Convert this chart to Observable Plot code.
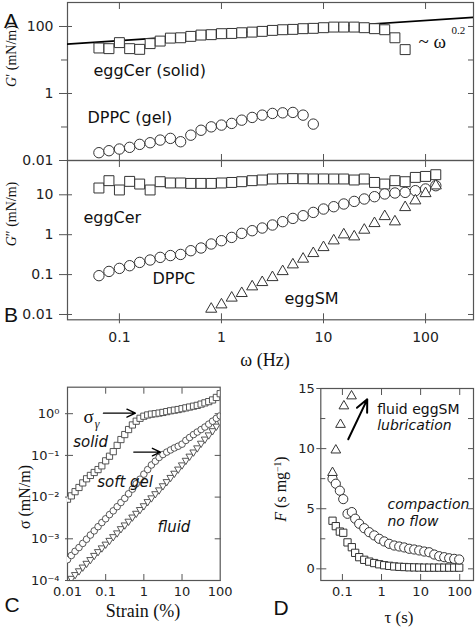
<!DOCTYPE html>
<html><head><meta charset="utf-8">
<script src="https://cdn.jsdelivr.net/npm/d3@7"></script>
<script src="https://cdn.jsdelivr.net/npm/@observablehq/plot@0.6"></script>
<style>
html,body{margin:0;padding:0;background:#fff;}
#fig{position:relative;width:476px;height:630px;overflow:hidden;background:#fff;}
#fig svg{position:absolute;left:0;top:0;}
.lbl{position:absolute;white-space:nowrap;transform:translate(-50%,-50%);color:#111;line-height:1;}
.rot{transform:translate(-50%,-50%) rotate(-90deg);}
.serif{font-family:"Liberation Serif","DejaVu Serif",serif;}
.panel{font-family:"Liberation Sans",Arial,sans-serif;font-size:21px;}
sup{font-size:0.6em;vertical-align:0.6em;}
</style></head><body><div id="fig"></div>
<script>
// ---------- Panels A/B : frequency sweep ----------
const omega = [0.063, 0.079, 0.1, 0.126, 0.158, 0.2, 0.251, 0.316, 0.398, 0.501, 0.631, 0.794,
  1, 1.26, 1.58, 2.0, 2.51, 3.16, 3.98, 5.01, 6.31, 7.94, 10, 12.6, 15.8, 20, 25.1, 31.6,
  39.8, 50.1, 63.1, 79.4, 100, 126];
const gpCer = [22.8, 21.8, 33, 21.8, 20.8, 30.8, 36.7, 45, 46, 50.7, 55.5, 57, 61, 62, 65, 68,
  71.5, 76.5, 80, 82, 86, 88, 92, 96, 96, 96, 92, 86, 80, 46, 20.4];
const gpDppc = [0.0171, 0.0196, 0.022, 0.0247, 0.0303, 0.0339, 0.0407, 0.0457, 0.0363, 0.057,
  0.080, 0.101, 0.114, 0.128, 0.16, 0.193, 0.226, 0.254, 0.265, 0.272, 0.226, 0.122];
const gppCer = [14.8, 22.6, 13.2, 21.7, 18.6, 13.2, 21.3, 19.8, 19.8, 19.3, 19.3, 19.3, 19.8, 20.4,
  21.3, 22.6, 23.5, 24.9, 25.2, 25.4, 25.2, 25, 25, 24.9, 24.9, 23.5, 24.9, 20.4, 18.6, 22.6,
  21.3, 27.3, 28.9, 31.9];
const gppDppc = [0.094, 0.12, 0.143, 0.167, 0.202, 0.232, 0.27, 0.30, 0.32, 0.397, 0.464, 0.585,
  0.707, 0.855, 1.08, 1.26, 1.47, 1.75, 2.12, 2.56, 2.99, 3.62, 4.4, 5.03, 5.88, 6.83, 7.85,
  8.96, 10.5, 11.1, 11.5, 12.7, 14, 16.9];
const gppSM = [0.0137, 0.0176, 0.026, 0.0339, 0.0498, 0.0638, 0.085, 0.12, 0.177, 0.246, 0.34,
  0.48, 0.707, 1.0, 0.89, 1.31, 1.92, 2.87, 2.12, 4.83, 7.11, 10.8, 16.9];
const omegaGpCer = omega.slice(0, 31);
const omegaGpDppc = omega.slice(0, 22);
const omegaSM = omega.slice(11, 34);
const fitOmega = [0.03, 300];
const fitG = [29.8, 188];
const omegaTicks = [0.1, 1, 10, 100];
const gpTicks = [0.01, 1, 100];
const gppTicks = [0.01, 0.1, 1, 10];

// ---------- Panel C : strain sweep ----------
const strain = [0.01, 0.0126, 0.0158, 0.02, 0.0251, 0.0316, 0.0398, 0.0501, 0.0631, 0.0794,
  0.1, 0.126, 0.158, 0.2, 0.251, 0.316, 0.398, 0.501, 0.631, 0.794,
  1, 1.26, 1.58, 2, 2.51, 3.16, 3.98, 5.01, 6.31, 7.94,
  10, 12.6, 15.8, 20, 25.1, 31.6, 39.8, 50.1, 63.1, 79.4, 100];
const sigmaSolid = [0.0089, 0.0107, 0.0135, 0.017, 0.0219, 0.0275, 0.0331, 0.0389, 0.0457, 0.0562,
  0.0741, 0.0955, 0.123, 0.174, 0.24, 0.316, 0.417, 0.537, 0.661, 0.776,
  0.871, 0.933, 0.977, 1.0, 1.035, 1.072, 1.122, 1.175, 1.216, 1.259,
  1.318, 1.38, 1.445, 1.514, 1.585, 1.698, 1.82, 1.95, 2.138, 2.455, 3.02];
const sigmaGel = [0.000316, 0.000398, 0.000501, 0.000617, 0.000776, 0.000977, 0.00123, 0.00155, 0.00195, 0.00245,
  0.00302, 0.0038, 0.00468, 0.00589, 0.00741, 0.00933, 0.012, 0.0155, 0.0209, 0.0269,
  0.0355, 0.0457, 0.0589, 0.0724, 0.0891, 0.105, 0.12, 0.135, 0.151, 0.166,
  0.186, 0.229, 0.269, 0.316, 0.363, 0.417, 0.479, 0.562, 0.661, 0.776, 0.891];
const sigmaFluid = [0.0000891, 0.000112, 0.000138, 0.00017, 0.000209, 0.000257, 0.000316, 0.000398, 0.00049, 0.000603,
  0.000741, 0.000912, 0.00112, 0.00138, 0.00174, 0.00214, 0.00263, 0.00331, 0.00407, 0.00501,
  0.00617, 0.00776, 0.00955, 0.012, 0.0148, 0.0186, 0.0234, 0.0295, 0.0372, 0.0468,
  0.0589, 0.0759, 0.0955, 0.12, 0.151, 0.195, 0.245, 0.309, 0.389, 0.501, 0.631];
const strainTicks = [0.01, 0.1, 1, 10, 100];
const sigmaTicks = [0.0001, 0.001, 0.01, 0.1, 1];

// ---------- Panel D : creep / flow ----------
const tau = [0.0558, 0.0678, 0.0859, 0.105, 0.135, 0.174, 0.212, 0.269, 0.361, 0.484, 0.65, 0.873,
  1.17, 1.57, 2.11, 2.84, 3.81, 5.1, 6.86, 9.2, 12.4, 16.6, 22.3, 29.9, 40.2, 53.8, 72.3, 97];
const fDppc = [7.5, 7.08, 6.5, 5.8, 4.58, 4.72, 4.17, 3.75, 3.38, 3.05, 2.78, 2.5, 2.28, 2.08, 1.94,
  1.86, 1.78, 1.67, 1.61, 1.53, 1.44, 1.38, 1.19, 1.05, 0.97, 0.88, 0.83, 0.78];
const fCer = [4.0, 3.55, 3.1, 3.0, 2.2, 1.8, 1.33, 0.97, 0.75, 0.6, 0.48, 0.38, 0.3, 0.25, 0.2, 0.17,
  0.15, 0.13, 0.12, 0.11, 0.1, 0.1, 0.1, 0.1, 0.1, 0.1, 0.1, 0.1];
const tauSM = [0.0558, 0.0678, 0.0894, 0.109, 0.171];
const fSM = [8.0, 9.87, 12.0, 13.54, 14.37];
const tauTicks = [0.1, 1, 10, 100];
const fTicks = [0, 5, 10, 15];
const fMinor = [2.5, 7.5, 12.5];

// ---------- annotations (data coordinates) ----------
const notesA = [{t: "eggCer (solid)", x: 0.0556, y: 4.6}, {t: "DPPC (gel)", x: 0.0486, y: 0.184}];
const notesB = [{t: "eggCer", x: 0.0444, y: 2.71}, {t: "DPPC", x: 0.211, y: 0.0789}, {t: "eggSM", x: 4.15, y: 0.0249}];
const notesC = [{t: "solid", x: 0.0141, y: 0.208}, {t: "soft gel", x: 0.0598, y: 0.0229}, {t: "fluid", x: 2.27, y: 0.0019}];
const arrowsC = [{x1: 0.0875, x2: 0.6, y: 1.03}, {x1: 0.545, x2: 2.72, y: 0.12}];
const notesDPlain = [{t: "fluid eggSM", x: 0.776, y: 13.27}];
const notesDItalic = [{t: "lubrication", x: 0.776, y: 11.88}, {t: "compaction", x: 1.42, y: 5.33}, {t: "no flow", x: 1.42, y: 3.95}];
const arrowD = [{x1: 0.141, y1: 10.78, x2: 0.431, y2: 14.1}];

// ---------- helpers ----------
const W = 476, H = 630;
const frameInk = "#555", ink = "#222";
const sans = "DejaVu Sans";
function tk(axis, anchor, values, size, shift) {
  const o = {anchor, ticks: values, tickSize: size, tickFormat: () => "", label: null, stroke: frameInk, strokeWidth: 1};
  if (axis === Plot.axisX) o.dy = shift; else o.dx = shift;
  return axis(o);
}
function lb(axis, anchor, values, pad, fmt) {
  return axis({anchor, ticks: values, tickSize: 0, tickPadding: pad, tickFormat: fmt, label: null});
}
const fmtNum = d => d3.format("~g")(d);
const supMap = {"0": "⁰", "1": "¹", "2": "²", "3": "³", "4": "⁴", "-": "⁻"};
const fmtPow = d => "10" + String(Math.round(Math.log10(d))).split("").map(c => supMap[c]).join("");
const downTri = {draw(ctx, size) {
  const y = -Math.sqrt(size / (Math.sqrt(3) * 3));
  ctx.moveTo(0, -y * 2); ctx.lineTo(-Math.sqrt(3) * y, y); ctx.lineTo(Math.sqrt(3) * y, y); ctx.closePath();
}};
const baseStyle = fs => ({fontFamily: sans, fontSize: fs + "px", color: ink, background: "none", overflow: "visible"});

const fig = document.getElementById("fig");

// ---- Panel A ----
const plotA = Plot.plot({
  width: W, height: H, marginLeft: 67, marginRight: 3, marginTop: 2, marginBottom: H - 160,
  x: {type: "log", domain: [0.031, 295], axis: null},
  y: {type: "log", domain: [0.01, 520], axis: null},
  style: baseStyle(14),
  marks: [
    Plot.frame({stroke: frameInk, strokeWidth: 1.2}),
    tk(Plot.axisY, "left", gpTicks, 13, 5),
    tk(Plot.axisY, "left", [0.1, 10], 6, 0),
    tk(Plot.axisY, "right", [0.1, 1, 10, 100], 6, -6),
    tk(Plot.axisX, "top", omegaTicks, 6, 6),
    tk(Plot.axisX, "bottom", omegaTicks, 6, -6),
    lb(Plot.axisY, "left", gpTicks, 14, fmtNum),
    Plot.line(fitOmega, {x: fitOmega, y: fitG, stroke: "#000", strokeWidth: 1.7, clip: true}),
    Plot.dot(gpCer, {x: omegaGpCer, y: gpCer, symbol: "square", r: 5.6, fill: "white", stroke: "#333", strokeWidth: 1}),
    Plot.dot(gpDppc, {x: omegaGpDppc, y: gpDppc, symbol: "circle", r: 5.2, fill: "white", stroke: "#333", strokeWidth: 1}),
    Plot.text(notesA, {x: "x", y: "y", text: "t", textAnchor: "start", fontSize: 16, fontFamily: sans, fill: "#111"}),
    Plot.text(["~ ω"], {x: [85.4], y: [33.6], text: d => d, textAnchor: "start", fontSize: 19, fontFamily: "Liberation Serif", fill: "#111"}),
    Plot.text(["0.2"], {x: [180], y: [76], text: d => d, textAnchor: "start", fontSize: 11, fontFamily: "Liberation Serif", fill: "#111"})
  ]
});

// ---- Panel B ----
const plotB = Plot.plot({
  width: W, height: H, marginLeft: 67, marginRight: 3, marginTop: 160, marginBottom: H - 319.3,
  x: {type: "log", domain: [0.031, 295], axis: null},
  y: {type: "log", domain: [0.00736, 72.4], axis: null},
  style: baseStyle(14),
  marks: [
    Plot.frame({stroke: frameInk, strokeWidth: 1.2}),
    tk(Plot.axisY, "left", gppTicks, 13, 5),
    tk(Plot.axisY, "right", gppTicks, 6, -6),
    tk(Plot.axisX, "top", omegaTicks, 6, 6),
    tk(Plot.axisX, "bottom", omegaTicks, 10, -6),
    lb(Plot.axisY, "left", gppTicks, 14, fmtNum),
    lb(Plot.axisX, "bottom", omegaTicks, 12, fmtNum),
    Plot.dot(gppCer, {x: omega, y: gppCer, symbol: "square", r: 5.6, fill: "white", stroke: "#333", strokeWidth: 1}),
    Plot.dot(gppDppc, {x: omega, y: gppDppc, symbol: "circle", r: 5.2, fill: "white", stroke: "#333", strokeWidth: 1}),
    Plot.dot(gppSM, {x: omegaSM, y: gppSM, symbol: "triangle", r: 4.1, fill: "white", stroke: "#333", strokeWidth: 1}),
    Plot.text(notesB, {x: "x", y: "y", text: "t", textAnchor: "start", fontSize: 16, fontFamily: sans, fill: "#111"})
  ]
});

// ---- Panel C ----
const plotC = Plot.plot({
  width: W, height: H, marginLeft: 67, marginRight: W - 219.7, marginTop: 386.7, marginBottom: H - 580,
  x: {type: "log", domain: [0.01, 100], axis: null},
  y: {type: "log", domain: [0.0001, 4.32], axis: null},
  style: baseStyle(13),
  marks: [
    Plot.frame({stroke: frameInk, strokeWidth: 1.2}),
    tk(Plot.axisY, "left", sigmaTicks, 8, 6),
    tk(Plot.axisY, "right", sigmaTicks, 6, -6),
    tk(Plot.axisX, "top", [0.1, 1, 10], 6, 6),
    tk(Plot.axisX, "bottom", [0.1, 1, 10], 6, -6),
    lb(Plot.axisY, "left", sigmaTicks, 8, fmtPow),
    lb(Plot.axisX, "bottom", strainTicks, 6, fmtNum),
    Plot.dot(sigmaFluid, {x: strain, y: sigmaFluid, symbol: downTri, r: 2.7, fill: "white", stroke: "#444", strokeWidth: 0.9, clip: true}),
    Plot.dot(sigmaGel, {x: strain, y: sigmaGel, symbol: "circle", r: 3.3, fill: "white", stroke: "#444", strokeWidth: 0.9, clip: true}),
    Plot.dot(sigmaSolid, {x: strain, y: sigmaSolid, symbol: "square", r: 3.5, fill: "white", stroke: "#444", strokeWidth: 0.9, clip: true}),
    Plot.text(notesC, {x: "x", y: "y", text: "t", textAnchor: "start", fontSize: 15, fontStyle: "italic", fontFamily: sans, fill: "#111"}),
    Plot.text(["σ"], {x: [0.0262], y: [0.83], text: d => d, textAnchor: "start", fontSize: 19, fontFamily: "Liberation Serif", fill: "#111"}),
    Plot.text(["γ"], {x: [0.052], y: [0.56], text: d => d, textAnchor: "start", fontSize: 12, fontStyle: "italic", fontFamily: "Liberation Serif", fill: "#111"}),
    Plot.arrow(arrowsC, {x1: "x1", x2: "x2", y1: "y", y2: "y", stroke: "#000", strokeWidth: 1.4, headLength: 10, headAngle: 50})
  ]
});

// ---- Panel D ----
const plotD = Plot.plot({
  width: W, height: H, marginLeft: 320.3, marginRight: 3, marginTop: 388, marginBottom: H - 580,
  x: {type: "log", domain: [0.028, 225], axis: null},
  y: {type: "linear", domain: [-0.97, 15], axis: null},
  style: baseStyle(13),
  marks: [
    Plot.frame({stroke: frameInk, strokeWidth: 1.2}),
    tk(Plot.axisY, "left", fTicks, 10, 6),
    tk(Plot.axisY, "left", fMinor, 5, 5),
    tk(Plot.axisY, "right", [0, 2.5, 5, 7.5, 10, 12.5], 6, -6),
    tk(Plot.axisX, "top", tauTicks, 6, 6),
    tk(Plot.axisX, "bottom", tauTicks, 6, -6),
    lb(Plot.axisY, "left", fTicks, 6, fmtNum),
    lb(Plot.axisX, "bottom", tauTicks, 6, fmtNum),
    Plot.dot(fCer, {x: tau, y: fCer, symbol: "square", r: 4.1, fill: "white", stroke: "#333", strokeWidth: 1}),
    Plot.dot(fDppc, {x: tau, y: fDppc, symbol: "circle", r: 4.6, fill: "white", stroke: "#333", strokeWidth: 1}),
    Plot.dot(fSM, {x: tauSM, y: fSM, symbol: "triangle", r: 3.6, fill: "white", stroke: "#333", strokeWidth: 1}),
    Plot.text(notesDPlain, {x: "x", y: "y", text: "t", textAnchor: "start", fontSize: 14, fontFamily: sans, fill: "#111"}),
    Plot.text(notesDItalic, {x: "x", y: "y", text: "t", textAnchor: "start", fontSize: 14, fontStyle: "italic", fontFamily: sans, fill: "#111"}),
    Plot.arrow(arrowD, {x1: "x1", y1: "y1", x2: "x2", y2: "y2", stroke: "#000", strokeWidth: 2, headLength: 10, headAngle: 50})
  ]
});

[plotA, plotB, plotC, plotD].forEach(p => fig.appendChild(p));

// ---- titles and panel letters ----
const htmlLabels = [
  {h: "A", x: 11, y: 20, c: "panel"},
  {h: "B", x: 11, y: 314, c: "panel"},
  {h: "C", x: 12, y: 604, c: "panel"},
  {h: "D", x: 281, y: 607, c: "panel"},
  {h: "<i>G</i>′ (mN/m)", x: 12, y: 56, c: "serif rot", fs: 14},
  {h: "<i>G</i>″ (mN/m)", x: 12, y: 214, c: "serif rot", fs: 14},
  {h: "ω (Hz)", x: 265, y: 360, c: "serif", fs: 18},
  {h: "σ (mN/m)", x: 25, y: 497, c: "serif rot", fs: 16},
  {h: "Strain (%)", x: 143, y: 611, c: "serif", fs: 18},
  {h: "<i>F</i> (s mg<sup>−1</sup>)", x: 281, y: 489, c: "serif rot", fs: 16},
  {h: "τ (s)", x: 399, y: 617, c: "serif", fs: 17}
];
htmlLabels.forEach(l => {
  const d = document.createElement("div");
  d.className = "lbl " + l.c;
  d.innerHTML = l.h;
  d.style.left = l.x + "px";
  d.style.top = l.y + "px";
  if (l.fs) d.style.fontSize = l.fs + "px";
  fig.appendChild(d);
});
</script></body></html>
